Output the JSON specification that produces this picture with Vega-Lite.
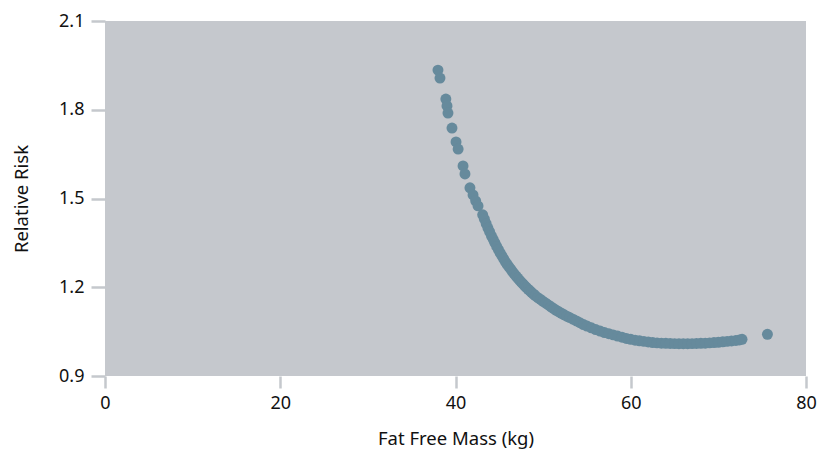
{
  "$schema": "https://vega.github.io/schema/vega-lite/v6.json",
  "autosize": {"type": "none"},
  "padding": {"left": 105, "top": 21, "right": 15, "bottom": 80},
  "width": 701,
  "height": 355,
  "background": "white",
  "config": {
    "view": {"fill": "#c5c8cd", "stroke": null},
    "font": "Noto Sans",
    "axis": {
      "domain": false,
      "grid": false,
      "tickColor": "#c5c8cd",
      "tickWidth": 2.5,
      "labelFont": "Noto Sans",
      "labelFontSize": 18,
      "labelColor": "#111111",
      "labelFlush": false,
      "titleFont": "Noto Sans",
      "titleFontSize": 18.5,
      "titleFontWeight": "normal",
      "titleColor": "#111111"
    }
  },
  "data": {
    "values": [
      {"ffm": 38.0, "rr": 1.934}, {"ffm": 38.23, "rr": 1.907}, {"ffm": 38.9, "rr": 1.836},
      {"ffm": 39.03, "rr": 1.813}, {"ffm": 39.14, "rr": 1.789}, {"ffm": 39.6, "rr": 1.738},
      {"ffm": 40.06, "rr": 1.691}, {"ffm": 40.3, "rr": 1.667}, {"ffm": 40.86, "rr": 1.61},
      {"ffm": 41.08, "rr": 1.583}, {"ffm": 41.65, "rr": 1.536}, {"ffm": 42.0, "rr": 1.512},
      {"ffm": 42.3, "rr": 1.492}, {"ffm": 42.57, "rr": 1.475},
      {"ffm": 43.1, "rr": 1.445}, {"ffm": 43.3, "rr": 1.43}, {"ffm": 43.5, "rr": 1.415},
      {"ffm": 43.7, "rr": 1.4}, {"ffm": 43.9, "rr": 1.387}, {"ffm": 44.1, "rr": 1.374},
      {"ffm": 44.3, "rr": 1.362}, {"ffm": 44.5, "rr": 1.35}, {"ffm": 44.7, "rr": 1.338},
      {"ffm": 44.9, "rr": 1.327}, {"ffm": 45.1, "rr": 1.316}, {"ffm": 45.3, "rr": 1.306},
      {"ffm": 45.5, "rr": 1.296}, {"ffm": 45.7, "rr": 1.286}, {"ffm": 45.9, "rr": 1.277},
      {"ffm": 46.1, "rr": 1.269}, {"ffm": 46.3, "rr": 1.261}, {"ffm": 46.5, "rr": 1.253},
      {"ffm": 46.7, "rr": 1.245}, {"ffm": 46.9, "rr": 1.238}, {"ffm": 47.1, "rr": 1.231},
      {"ffm": 47.3, "rr": 1.224}, {"ffm": 47.5, "rr": 1.217}, {"ffm": 47.7, "rr": 1.211},
      {"ffm": 47.9, "rr": 1.205}, {"ffm": 48.1, "rr": 1.199}, {"ffm": 48.3, "rr": 1.193},
      {"ffm": 48.5, "rr": 1.188}, {"ffm": 48.7, "rr": 1.182}, {"ffm": 48.9, "rr": 1.177},
      {"ffm": 49.1, "rr": 1.172}, {"ffm": 49.4, "rr": 1.165}, {"ffm": 49.7, "rr": 1.159},
      {"ffm": 50.0, "rr": 1.152}, {"ffm": 50.3, "rr": 1.146}, {"ffm": 50.6, "rr": 1.14},
      {"ffm": 50.9, "rr": 1.134}, {"ffm": 51.2, "rr": 1.128}, {"ffm": 51.5, "rr": 1.122},
      {"ffm": 51.8, "rr": 1.117}, {"ffm": 52.1, "rr": 1.112}, {"ffm": 52.4, "rr": 1.107},
      {"ffm": 52.7, "rr": 1.102}, {"ffm": 53.0, "rr": 1.098}, {"ffm": 53.4, "rr": 1.092},
      {"ffm": 53.8, "rr": 1.086}, {"ffm": 54.2, "rr": 1.08}, {"ffm": 54.6, "rr": 1.074},
      {"ffm": 55.0, "rr": 1.069}, {"ffm": 55.5, "rr": 1.063}, {"ffm": 56.0, "rr": 1.057},
      {"ffm": 56.5, "rr": 1.052}, {"ffm": 57.0, "rr": 1.047}, {"ffm": 57.5, "rr": 1.043},
      {"ffm": 58.0, "rr": 1.039}, {"ffm": 58.5, "rr": 1.035}, {"ffm": 59.0, "rr": 1.031},
      {"ffm": 59.5, "rr": 1.027}, {"ffm": 60.0, "rr": 1.024}, {"ffm": 60.5, "rr": 1.021},
      {"ffm": 61.0, "rr": 1.019}, {"ffm": 61.5, "rr": 1.017}, {"ffm": 62.0, "rr": 1.015},
      {"ffm": 62.5, "rr": 1.013}, {"ffm": 63.0, "rr": 1.012}, {"ffm": 63.5, "rr": 1.011},
      {"ffm": 64.0, "rr": 1.0105}, {"ffm": 64.5, "rr": 1.01}, {"ffm": 65.0, "rr": 1.0095},
      {"ffm": 65.5, "rr": 1.0093}, {"ffm": 66.0, "rr": 1.0092}, {"ffm": 66.5, "rr": 1.0093},
      {"ffm": 67.0, "rr": 1.0095}, {"ffm": 67.5, "rr": 1.01}, {"ffm": 68.0, "rr": 1.0105},
      {"ffm": 68.5, "rr": 1.011}, {"ffm": 69.0, "rr": 1.012}, {"ffm": 69.5, "rr": 1.013},
      {"ffm": 70.0, "rr": 1.014}, {"ffm": 70.5, "rr": 1.0155}, {"ffm": 71.0, "rr": 1.017},
      {"ffm": 71.5, "rr": 1.0185}, {"ffm": 72.0, "rr": 1.02}, {"ffm": 72.4, "rr": 1.022},
      {"ffm": 72.7, "rr": 1.024},
      {"ffm": 75.6, "rr": 1.041}
    ]
  },
  "mark": {"type": "circle", "size": 120, "color": "#668a9c", "opacity": 1},
  "encoding": {
    "x": {
      "field": "ffm", "type": "quantitative",
      "scale": {"domain": [0, 80], "nice": false, "zero": false},
      "axis": {"values": [0, 20, 40, 60, 80], "title": "Fat Free Mass (kg)", "tickSize": 12, "labelPadding": 6, "titlePadding": 17}
    },
    "y": {
      "field": "rr", "type": "quantitative",
      "scale": {"domain": [0.9, 2.1], "nice": false, "zero": false},
      "axis": {"values": [0.9, 1.2, 1.5, 1.8, 2.1], "format": ".1f", "title": "Relative Risk", "tickSize": 14, "labelPadding": 7, "titlePadding": 27}
    }
  }
}
